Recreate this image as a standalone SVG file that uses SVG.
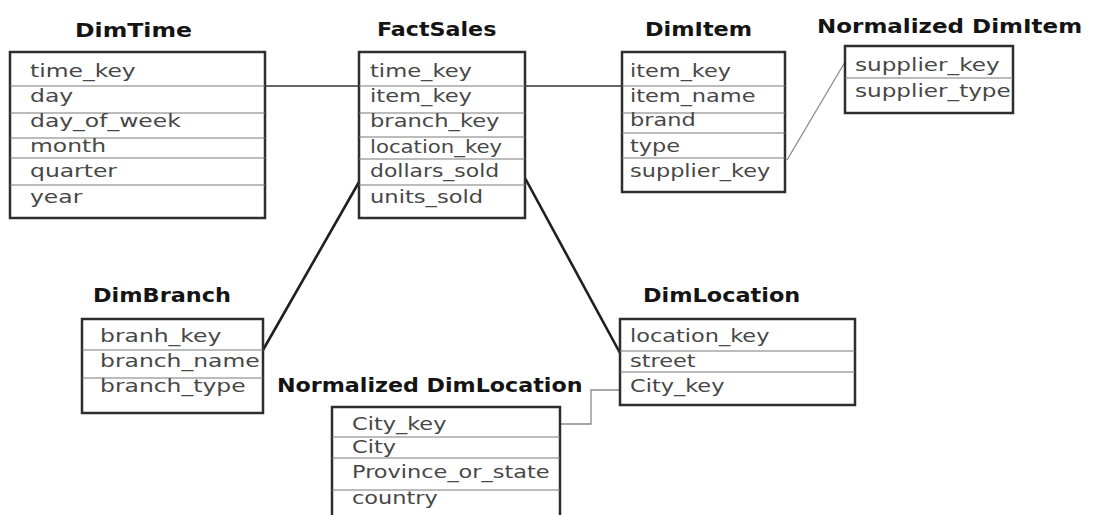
<svg xmlns="http://www.w3.org/2000/svg" width="1093" height="515" viewBox="0 0 1093 515">
<style>
.bg{fill:#ffffff}
.box{fill:#ffffff;stroke:#2e2e2e;stroke-width:2.5}
.sep{stroke:#7a7a7a;stroke-width:1.2;fill:none}
.t{font-family:"DejaVu Sans","Liberation Sans",sans-serif;font-weight:bold;font-size:20px;fill:#141414}
.f{font-family:"DejaVu Sans","Liberation Sans",sans-serif;font-size:17px;fill:#474747}
.c1{stroke:#333;stroke-width:1.6;fill:none}
.c2{stroke:#1e1e1e;stroke-width:2.6;fill:none}
.c3{stroke:#8a8a8a;stroke-width:1.3;fill:none}
</style>
<rect class="bg" x="0" y="0" width="1093" height="515"/>
<g id="connectors">
<line class="c1" x1="265" y1="86" x2="359" y2="86"/>
<line class="c1" x1="525" y1="86" x2="622" y2="86"/>
<line class="c3" x1="787" y1="160" x2="845" y2="62"/>
<line class="c2" x1="359" y1="182" x2="263" y2="350"/>
<line class="c2" x1="525" y1="178" x2="620" y2="353"/>
<polyline class="c3" points="560,424 591,424 591,390 620,390"/>
</g>
<g id="DimTime">
<text class="t" transform="translate(75,37) scale(1.18,1)">DimTime</text>
<rect class="box" x="10" y="52" width="255" height="166"/>
<path class="sep" d="M10 86H265M10 113H265M10 138H265M10 158H265M10 185H265"/>
<text class="f" transform="translate(30,77) scale(1.38,1)">time_key</text>
<text class="f" transform="translate(30,102) scale(1.38,1)">day</text>
<text class="f" transform="translate(30,127) scale(1.38,1)">day_of_week</text>
<text class="f" transform="translate(30,152) scale(1.38,1)">month</text>
<text class="f" transform="translate(30,177) scale(1.38,1)">quarter</text>
<text class="f" transform="translate(30,203) scale(1.38,1)">year</text>
</g>
<g id="FactSales">
<text class="t" transform="translate(377,36) scale(1.11,1)">FactSales</text>
<rect class="box" x="359" y="52" width="166" height="166"/>
<path class="sep" d="M359 86H525M359 113H525M359 137H525M359 159H525M359 185H525"/>
<text class="f" transform="translate(370,77) scale(1.33,1)">time_key</text>
<text class="f" transform="translate(370,102) scale(1.33,1)">item_key</text>
<text class="f" transform="translate(370,127) scale(1.33,1)">branch_key</text>
<text class="f" transform="translate(370,153) scale(1.25,1)">location_key</text>
<text class="f" transform="translate(370,177) scale(1.29,1)">dollars_sold</text>
<text class="f" transform="translate(370,203) scale(1.33,1)">units_sold</text>
</g>
<g id="DimItem">
<text class="t" transform="translate(645,36) scale(1.12,1)">DimItem</text>
<rect class="box" x="622" y="52" width="163" height="140"/>
<path class="sep" d="M622 86H785M622 113H785M622 133H785M622 158H785"/>
<text class="f" transform="translate(630,77) scale(1.32,1)">item_key</text>
<text class="f" transform="translate(630,102) scale(1.32,1)">item_name</text>
<text class="f" transform="translate(630,126) scale(1.32,1)">brand</text>
<text class="f" transform="translate(630,152) scale(1.32,1)">type</text>
<text class="f" transform="translate(630,177) scale(1.32,1)">supplier_key</text>
</g>
<g id="NormalizedDimItem">
<text class="t" transform="translate(817,33) scale(1.15,1)">Normalized DimItem</text>
<rect class="box" x="845" y="46" width="168" height="67"/>
<path class="sep" d="M845 78H1013"/>
<text class="f" transform="translate(855,71) scale(1.36,1)">supplier_key</text>
<text class="f" transform="translate(855,97) scale(1.36,1)">supplier_type</text>
</g>
<g id="DimBranch">
<text class="t" transform="translate(93,302) scale(1.12,1)">DimBranch</text>
<rect class="box" x="82" y="319" width="181" height="94"/>
<path class="sep" d="M82 350H263M82 378H263"/>
<text class="f" transform="translate(100,342) scale(1.38,1)">branh_key</text>
<text class="f" transform="translate(100,367) scale(1.38,1)">branch_name</text>
<text class="f" transform="translate(100,392) scale(1.38,1)">branch_type</text>
</g>
<g id="DimLocation">
<text class="t" transform="translate(643,302) scale(1.12,1)">DimLocation</text>
<rect class="box" x="620" y="319" width="235" height="86"/>
<path class="sep" d="M620 351H855M620 372H855"/>
<text class="f" transform="translate(630,342) scale(1.32,1)">location_key</text>
<text class="f" transform="translate(630,367) scale(1.32,1)">street</text>
<text class="f" transform="translate(630,392) scale(1.32,1)">City_key</text>
</g>
<g id="NormalizedDimLocation">
<text class="t" transform="translate(277,392) scale(1.11,1)">Normalized DimLocation</text>
<path class="box" d="M332 520V407H560V520"/>
<path class="sep" d="M332 437H560M332 458H560M332 490H560"/>
<text class="f" transform="translate(352,430) scale(1.32,1)">City_key</text>
<text class="f" transform="translate(352,453) scale(1.32,1)">City</text>
<text class="f" transform="translate(352,478) scale(1.32,1)">Province_or_state</text>
<text class="f" transform="translate(352,504) scale(1.32,1)">country</text>
</g>
</svg>
